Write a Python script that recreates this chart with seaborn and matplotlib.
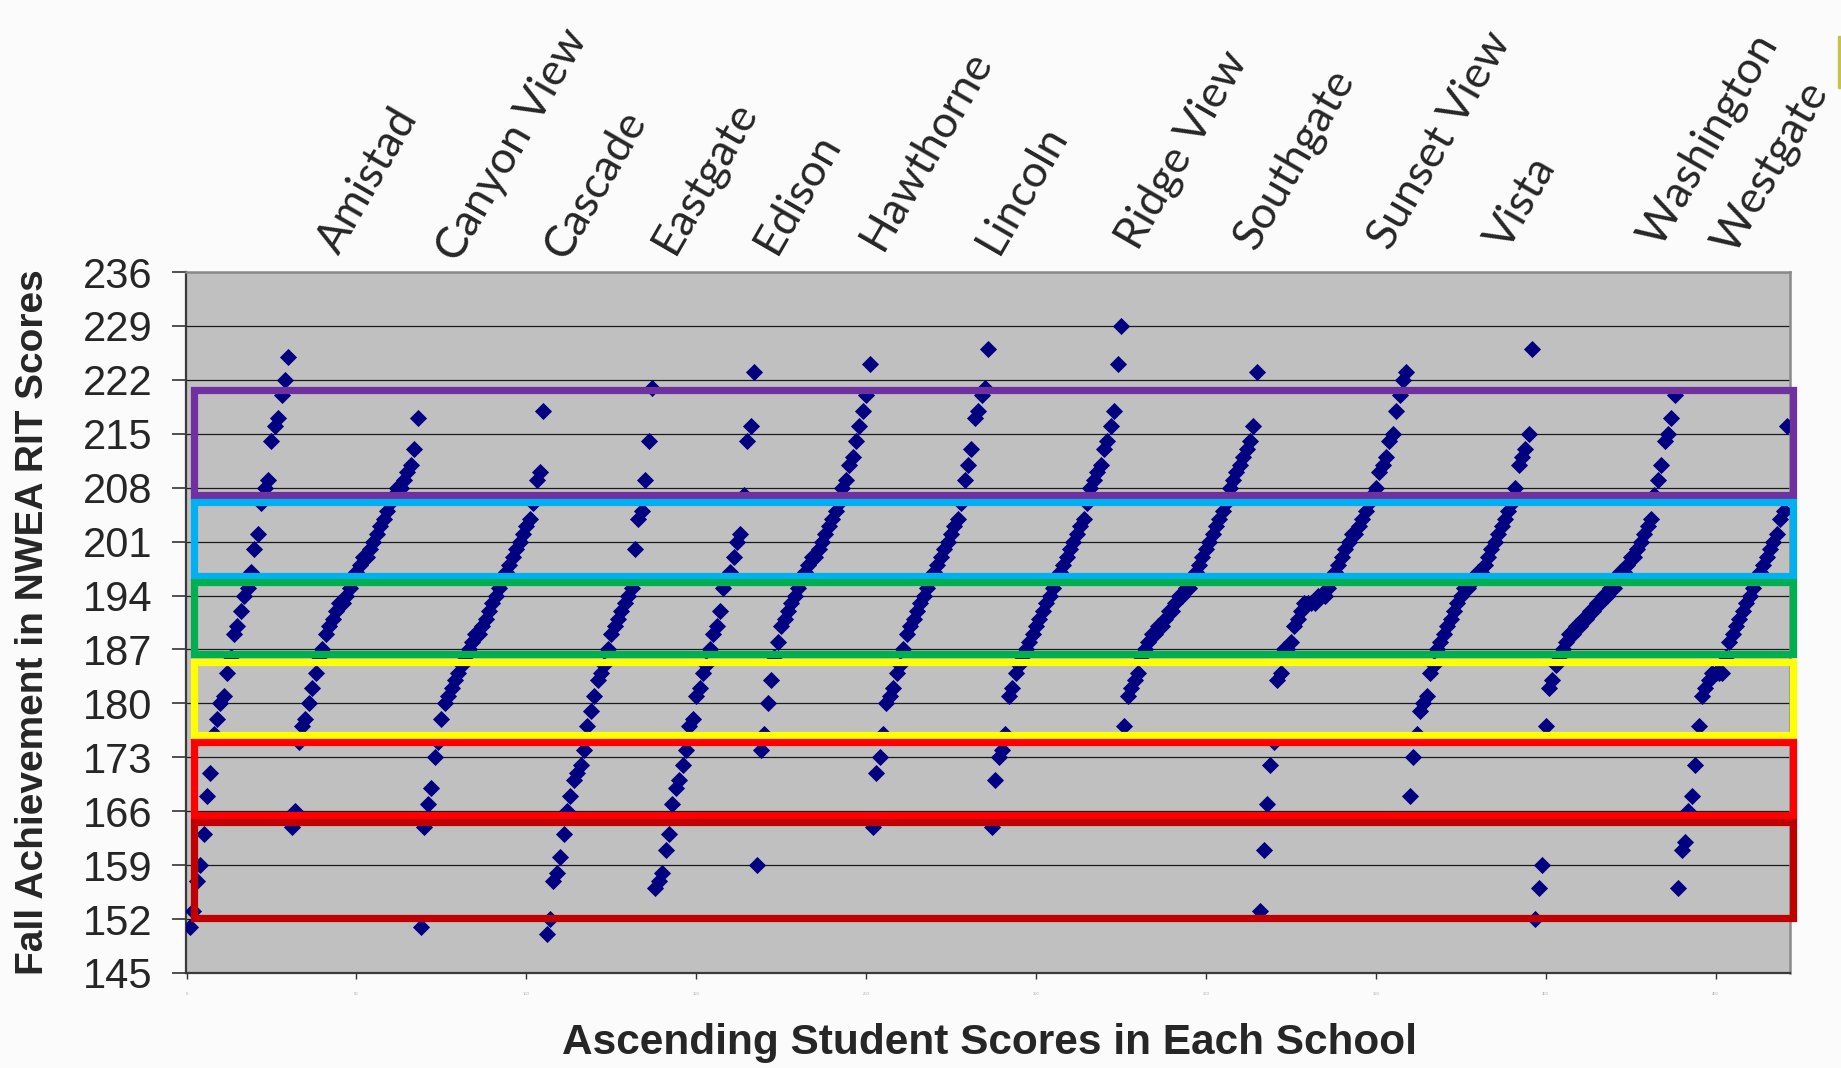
import numpy as np
import pandas as pd
import matplotlib
matplotlib.use('Agg')
import matplotlib.pyplot as plt
import matplotlib.transforms as mtransforms
from matplotlib.patches import Rectangle
import seaborn as sns

# ==================== data ====================
schools = ['Amistad', 'Canyon View', 'Cascade', 'Eastgate', 'Edison', 'Hawthorne',
           'Lincoln', 'Ridge View', 'Southgate', 'Sunset View', 'Vista',
           'Washington', 'Westgate']

amistad = [151, 153, 157, 159, 163, 168, 171, 176, 178, 180, 181, 184, 186, 189, 190,
           192, 194, 195, 197, 200, 202, 206, 208, 209, 214, 216, 217, 220, 222, 225]
canyon_view = [164, 166, 175, 177, 178, 180, 182, 184, 186, 187, 189, 190, 191, 192, 193,
               193, 194, 195, 196, 197, 198, 199, 199, 200, 201, 202, 203, 204, 205, 206,
               207, 208, 208, 209, 210, 211, 213, 217]
cascade = [151, 164, 167, 169, 173, 175, 178, 180, 181, 182, 183, 184, 185, 186, 187,
           188, 189, 189, 190, 191, 192, 193, 194, 195, 196, 197, 198, 199, 200, 201,
           202, 203, 204, 206, 209, 210, 218]
eastgate = [150, 152, 157, 158, 160, 163, 166, 168, 170, 171, 172, 174, 177, 179, 181,
            183, 184, 185, 187, 189, 190, 191, 192, 193, 194, 195, 200, 204, 205, 209,
            214, 221]
edison = [156, 157, 158, 161, 163, 167, 169, 170, 172, 174, 177, 178, 181, 182, 184,
          185, 187, 189, 190, 192, 195, 196, 197, 199, 201, 202, 207, 214, 216, 223]
hawthorne = [159, 174, 176, 180, 183, 186, 188, 190, 191, 192, 193, 194, 195, 196, 197,
             198, 199, 199, 200, 201, 202, 203, 204, 205, 206, 208, 209, 211, 212, 214,
             216, 218, 220, 224]
lincoln = [164, 171, 173, 176, 180, 181, 182, 184, 185, 187, 189, 190, 191, 192, 193,
           194, 195, 196, 197, 198, 199, 200, 201, 202, 203, 204, 206, 209, 211, 213,
           217, 218, 220, 221, 226]
ridge_view = [164, 170, 173, 174, 176, 181, 182, 184, 185, 186, 187, 188, 189, 190, 191,
              192, 193, 194, 195, 196, 197, 198, 199, 200, 201, 202, 203, 204, 206, 208,
              209, 210, 211, 213, 214, 216, 218, 224, 229]
southgate = [177, 181, 182, 183, 184, 186, 187, 188, 189, 189, 190, 190, 191, 192, 192,
             193, 194, 194, 195, 195, 196, 197, 198, 199, 200, 201, 202, 203, 204, 205,
             206, 208, 209, 210, 211, 212, 213, 214, 216, 223]
sunset_view = [153, 161, 167, 172, 175, 183, 184, 187, 187, 188, 190, 191, 192, 193, 193,
               193, 193, 194, 194, 194, 195, 196, 197, 198, 199, 200, 201, 202, 202, 203,
               204, 205, 206, 207, 208, 210, 211, 212, 214, 215, 218, 220, 222, 223]
vista = [168, 173, 176, 179, 180, 181, 184, 185, 187, 188, 189, 190, 191, 192, 193,
         194, 195, 195, 196, 196, 197, 197, 198, 199, 200, 201, 202, 203, 204, 205,
         206, 208, 211, 212, 213, 215, 226]
washington = [152, 156, 159, 177, 182, 183, 185, 186, 187, 188, 189, 189, 190, 190, 191,
              191, 192, 192, 193, 193, 194, 194, 195, 195, 196, 197, 197, 198, 199, 199,
              200, 201, 202, 203, 204, 207, 209, 211, 214, 215, 217, 220]
westgate = [156, 161, 162, 166, 168, 172, 177, 181, 182, 183, 184, 184, 184, 184, 186,
            188, 189, 190, 191, 192, 193, 194, 195, 196, 197, 198, 199, 200, 201, 202,
            204, 205, 216]

school_scores = [amistad, canyon_view, cascade, eastgate, edison, hawthorne, lincoln,
                 ridge_view, southgate, sunset_view, vista, washington, westgate]

# achievement bands (score ranges of the coloured boxes)
band_low = [207.1, 196.6, 186.4, 175.9, 165.5, 152.2]
band_high = [220.7, 206.2, 195.7, 185.4, 175.0, 164.6]
band_colors = ['#7030A0', '#00B0F0', '#00B050', '#FFFF00', '#FF0000', '#C00000']

y_ticks = list(range(145, 237, 7))
x_ticks = list(range(0, 451, 50))

# ==================== layout ====================
W, H = 1841, 1068
# baseline start of each school name, figure pixels from top-left
label_pos = [(315, 256), (434, 264), (542, 261), (650, 256), (752, 256), (858, 252),
             (974, 256), (1114, 252), (1232, 252), (1366, 252), (1484, 252),
             (1636, 249), (1710, 256)]
label_shift = 24  # px, rotated text sits left of its anchor

# ==================== build table ====================
rows = []
order = 0
for name, scores in zip(schools, school_scores):
    for s in sorted(scores):
        order += 1
        rows.append({'School': name, 'Order': order, 'Score': s})
df = pd.DataFrame(rows)

# ==================== plot ====================
sns.set_style('white')
plt.rcParams['font.family'] = ['Liberation Sans', 'DejaVu Sans']

fig = plt.figure(figsize=(W / 100, H / 100), dpi=100, facecolor='#FBFBFB')
ax = fig.add_axes([185.5 / W, 1 - 973 / H, (1790 - 185.5) / W, (973 - 272) / H])
ax.set_facecolor('#C0C0C0')

sns.scatterplot(data=df, x='Order', y='Score', marker='D', color='#000080', s=76,
                linewidth=0, legend=False, ax=ax, zorder=3)

ax.set_ylim(145, 236)
ax.set_xlim(-0.3, len(df) + 0.9)
ax.set_yticks(y_ticks)
ax.set_xticks(x_ticks)
ax.set_xticklabels([str(t) for t in x_ticks], fontsize=3, color='#aaaaaa')
ax.tick_params(axis='y', direction='out', length=10, width=1.2, color='#333333',
               labelsize=30, pad=14, left=True)
ax.tick_params(axis='x', direction='out', length=4, width=1.0, color='#333333',
               pad=10, bottom=True)
ax.yaxis.grid(True, color='#1a1a1a', linewidth=0.9)
ax.xaxis.grid(False)
ax.set_axisbelow(True)

for side in ['top', 'right']:
    ax.spines[side].set_color('#8a8a8a')
    ax.spines[side].set_linewidth(1.8)
for side in ['left', 'bottom']:
    ax.spines[side].set_color('#3a3a3a')
    ax.spines[side].set_linewidth(1.6)

ax.set_ylabel('Fall Achievement in NWEA RIT Scores', fontsize=28, fontweight='bold')
ax.set_xlabel('Ascending Student Scores in Each School', fontsize=30.5, fontweight='bold')
ax.yaxis.set_label_coords(-0.095, 0.5)
ax.xaxis.set_label_coords(0.501, -0.1)
ax.xaxis.label.set_va('center')
ax.yaxis.label.set_va('center')

# coloured band boxes, x in axes fraction, y in scores
trans = mtransforms.blended_transform_factory(ax.transAxes, ax.transData)
for lo, hi, c in zip(band_low, band_high, band_colors):
    ax.add_patch(Rectangle((0.0053, lo), 1.0016 - 0.0053, hi - lo, transform=trans,
                           fill=False, edgecolor=c, linewidth=5.2, joinstyle='miter',
                           clip_on=False, zorder=5))

# school names over the columns
for name, (px, py) in zip(schools, label_pos):
    fig.text((px + label_shift) / W, 1 - py / H, name, rotation=60, rotation_mode='anchor',
             ha='left', va='baseline', fontsize=32, family=['Lato', 'DejaVu Sans'])

# slide edge mark top right
fig.add_artist(Rectangle((1838 / W, 1 - 88 / H), 3 / W, 52 / H, transform=fig.transFigure,
                         color='#C4C44A'))

fig.savefig('out.png', dpi=100, facecolor=fig.get_facecolor())
plt.close()
